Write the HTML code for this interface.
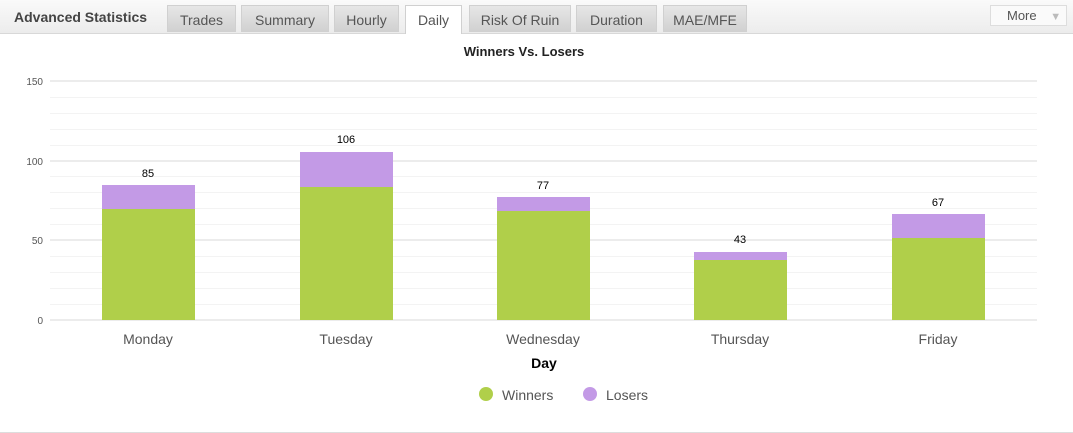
<!DOCTYPE html>
<html><head><style>
body{margin:0;width:1073px;height:433px;background:#fff;font-family:"Liberation Sans",sans-serif;position:relative;overflow:hidden}
.hdr{position:absolute;left:0;top:0;width:1073px;height:33px;background:linear-gradient(#fafafa,#ececec);border-bottom:1px solid #d8d8d8}
.t{position:absolute;top:5px;height:27px;background:linear-gradient(#e6e6e6,#d0d0d0);border:1px solid #d0d0d0;border-bottom:none;box-sizing:border-box;font-size:14px;color:#555;text-align:center;line-height:29px}
</style></head><body>
<div class="hdr"></div>
<div style="position:absolute;left:14px;top:9px;font-size:14px;font-weight:bold;color:#444">Advanced Statistics</div>
<div class="t" style="left:167px;width:69px">Trades</div>
<div class="t" style="left:241px;width:88px">Summary</div>
<div class="t" style="left:334px;width:65px">Hourly</div>
<div class="t" style="left:405px;width:57px;background:#fff;height:29px">Daily</div>
<div class="t" style="left:469px;width:102px">Risk Of Ruin</div>
<div class="t" style="left:576px;width:81px">Duration</div>
<div class="t" style="left:663px;width:84px">MAE/MFE</div>
<div style="position:absolute;left:990px;top:5px;width:77px;height:21px;background:#fafafa;border:1px solid #ddd;box-sizing:border-box;font-size:13px;color:#555;line-height:20px;padding-left:16px">More <span style="color:#bbb;font-size:11px;margin-left:10px">▼</span></div>
<svg width="1073" height="433" style="position:absolute;left:0;top:0">
<text x="524" y="56" text-anchor="middle" font-size="13" font-weight="bold" fill="#222">Winners Vs. Losers</text>
<g stroke="#f3f3f3" stroke-width="1">
<line x1="50" x2="1037" y1="97.5" y2="97.5"/><line x1="50" x2="1037" y1="113.5" y2="113.5"/><line x1="50" x2="1037" y1="129.5" y2="129.5"/><line x1="50" x2="1037" y1="145.5" y2="145.5"/>
<line x1="50" x2="1037" y1="176.5" y2="176.5"/><line x1="50" x2="1037" y1="192.5" y2="192.5"/><line x1="50" x2="1037" y1="208.5" y2="208.5"/><line x1="50" x2="1037" y1="224.5" y2="224.5"/>
<line x1="50" x2="1037" y1="256.5" y2="256.5"/><line x1="50" x2="1037" y1="272.5" y2="272.5"/><line x1="50" x2="1037" y1="288.5" y2="288.5"/><line x1="50" x2="1037" y1="304.5" y2="304.5"/>
</g>
<g stroke="#e6e6e6" stroke-width="1.5">
<line x1="50" x2="1037" y1="81" y2="81"/><line x1="50" x2="1037" y1="161" y2="161"/><line x1="50" x2="1037" y1="240" y2="240"/><line x1="50" x2="1037" y1="320" y2="320"/>
</g>
<g font-size="10" fill="#555" text-anchor="end">
<text x="43" y="85">150</text><text x="43" y="165">100</text><text x="43" y="244">50</text><text x="43" y="324">0</text>
</g>
<g fill="#b0cf4a">
<rect x="102" y="209" width="93" height="111"/><rect x="300" y="187" width="93" height="133"/><rect x="497" y="211" width="93" height="109"/><rect x="694" y="260" width="93" height="60"/><rect x="892" y="238" width="93" height="82"/>
</g>
<g fill="#c39ae6">
<rect x="102" y="185" width="93" height="24"/><rect x="300" y="152" width="93" height="35"/><rect x="497" y="197" width="93" height="14"/><rect x="694" y="252" width="93" height="8"/><rect x="892" y="214" width="93" height="24"/>
</g>
<g font-size="11" fill="#000" text-anchor="middle">
<text x="148" y="177">85</text><text x="346" y="143">106</text><text x="543" y="189">77</text><text x="740" y="243">43</text><text x="938" y="206">67</text>
</g>
<g font-size="14" fill="#555" text-anchor="middle">
<text x="148" y="344">Monday</text><text x="346" y="344">Tuesday</text><text x="543" y="344">Wednesday</text><text x="740" y="344">Thursday</text><text x="938" y="344">Friday</text>
</g>
<text x="544" y="368" text-anchor="middle" font-size="14" font-weight="bold" fill="#000">Day</text>
<circle cx="486" cy="394" r="7" fill="#b0cf4a"/><text x="502" y="400" font-size="14" fill="#555">Winners</text>
<circle cx="590" cy="394" r="7" fill="#c39ae6"/><text x="606" y="400" font-size="14" fill="#555">Losers</text>
<line x1="0" x2="1073" y1="432.5" y2="432.5" stroke="#ddd"/>
</svg>
</body></html>
